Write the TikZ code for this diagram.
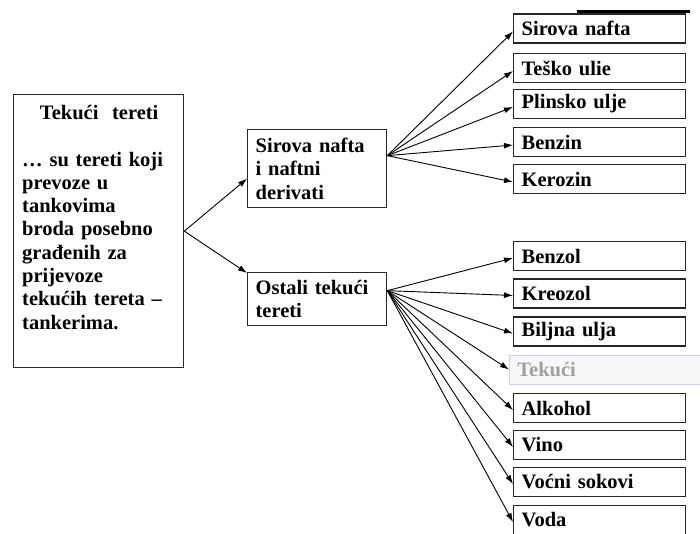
\documentclass[tikz,border=0pt]{standalone}
\usepackage{fontspec}
\setmainfont{Liberation Serif}
\usepackage{tikz}
\usetikzlibrary{arrows.meta}
\tikzstyle{okvir}=[draw=black!85, line width=1.3pt, inner sep=0pt, font=\bfseries\fontsize{20.5}{23.3}\selectfont]
\tikzstyle{vrsta}=[okvir, anchor=west, minimum width=172pt, minimum height=29pt, text width=156pt, align=left]
\tikzstyle{skupina}=[okvir, anchor=north west, minimum width=139pt, text width=123pt, align=left]
\tikzstyle{strelica}=[line width=0.9pt, -{Latex[length=9pt,width=6pt]}]

\begin{document}
\begin{tikzpicture}[x=1pt, y=-1pt]
    \useasboundingbox (0,0) rectangle (700,534);

    % lijevi okvir
    \node[okvir, anchor=north west, minimum width=170pt, minimum height=273pt] (tekuci) at (13,94) {};
    \node[anchor=north west, inner sep=0pt, text width=160pt, align=left,
          font=\bfseries\fontsize{20.5}{23.3}\selectfont] (opis) at (22,105)
          {\makebox[154pt]{Tekući\ \ tereti}\\[23.3pt]
           … su tereti koji\\ prevoze u\\ tankovima\\ broda posebno\\ građenih za\\
           prijevoze\\ tekućih tereta –\\ tankerima.};

    \node[skupina, minimum height=78pt] (derivati) at (247,129) {Sirova nafta\\ i naftni\\ derivati};
    \node[skupina, minimum height=53pt] (ostali) at (247,272) {Ostali tekući\\ tereti};

    \draw[strelica] (tekuci.east) -- ([yshift=-10pt]derivati.west);
    \draw[strelica] (tekuci.east) -- ([yshift=-1pt]ostali.north west);

    \draw[line width=2.5pt] (577,11.5) -- (690,11.5);

    \foreach \t/\y [count=\i] in {Sirova nafta/28.5, Teško ulie/68, Plinsko ulje/104, Benzin/142, Kerozin/179}{
        \node[vrsta] (gore\i) at (513,\y) {\t};
        \draw[strelica] ([yshift=13pt]derivati.east) -- ([yshift=-3pt]gore\i.west);
        }

    \foreach \t/\y [count=\i] in {Benzol/256, Kreozol/293.5, Biljna ulja/331.5, Alkohol/408, Vino/445, Voćni sokovi/482, Voda/520}{
        \node[vrsta] (dolje\i) at (513,\y) {\t};
        \draw[strelica] ([yshift=8.5pt]ostali.east) -- ([yshift=-2pt]dolje\i.west);
        }

    \node[vrsta, draw=blue!20, line width=0.8pt, fill=gray!6, text=gray!75, minimum width=230pt, text width=214pt] (tekuce) at (509,369.5) {Tekući};
    \draw[strelica] ([yshift=8.5pt]ostali.east) -- (tekuce.west);

    \end{tikzpicture}
\end{document}
